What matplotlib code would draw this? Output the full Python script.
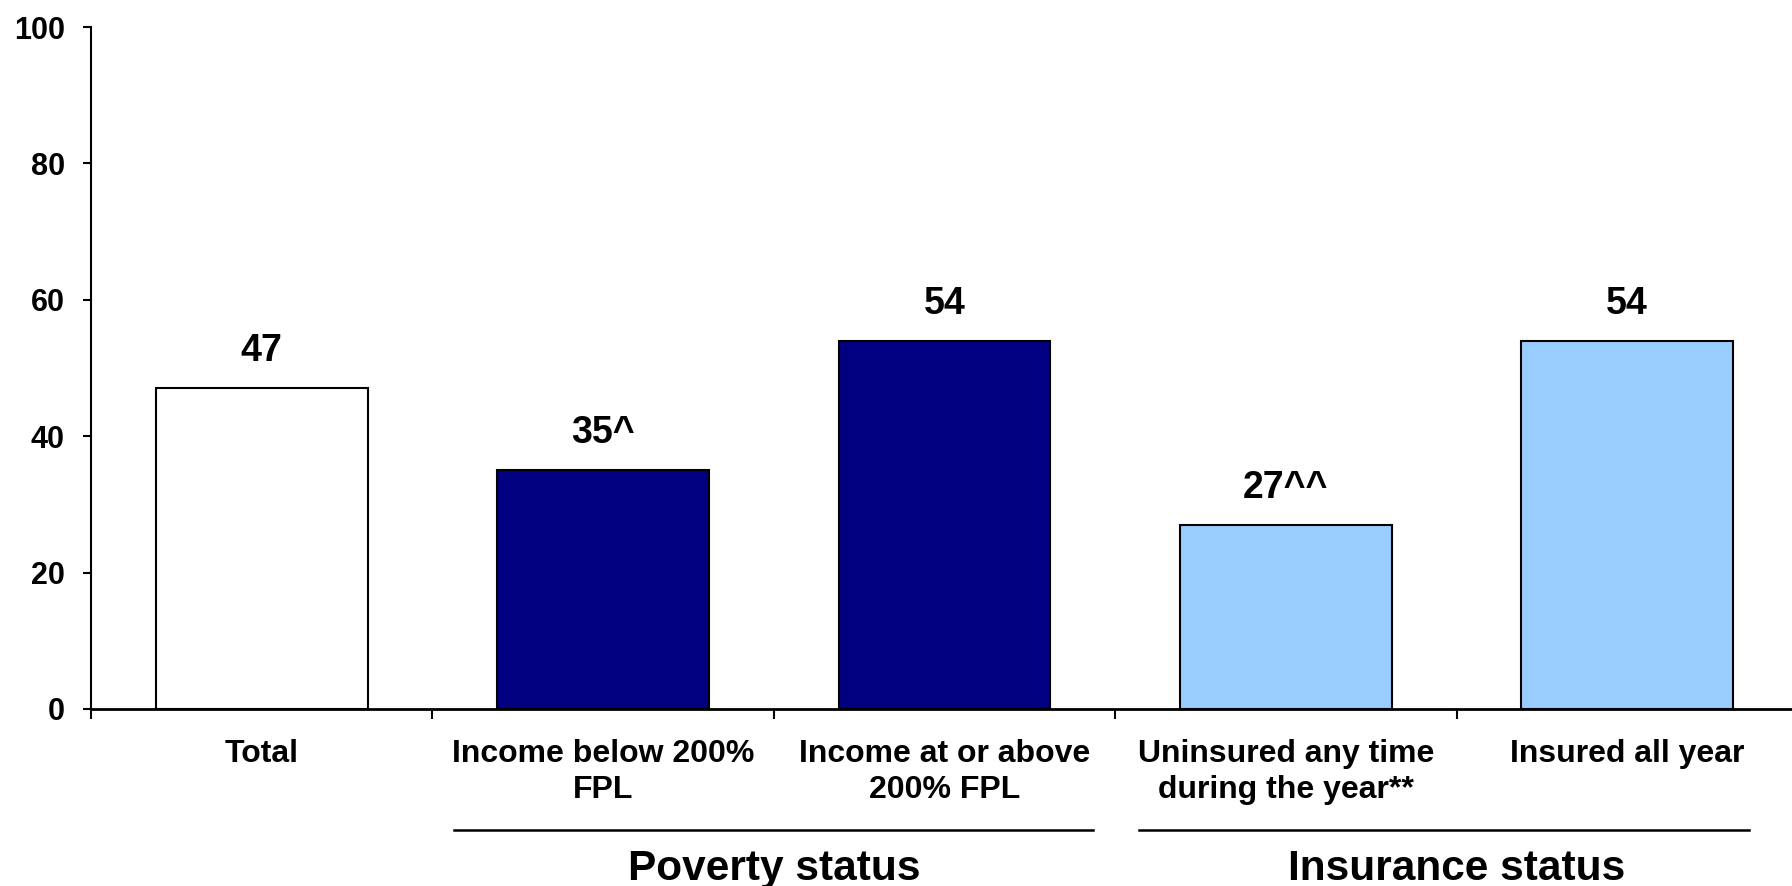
import matplotlib.pyplot as plt
import numpy as np

plt.rcParams['font.family'] = ['Liberation Sans', 'DejaVu Sans']
plt.rcParams['font.weight'] = 'bold'

categories = ['Total', 'Income below 200%\nFPL', 'Income at or above\n200% FPL',
              'Uninsured any time\nduring the year**', 'Insured all year']
values = [47, 35, 54, 27, 54]
value_labels = ['47', '35^', '54', '27^^', '54']
colors = ['#FFFFFF', '#000080', '#000080', '#99CCFF', '#99CCFF']
groups = ['Poverty status', 'Insurance status']
group_spans = [(1.064, 2.934), (3.071, 4.858)]
group_centers = [2, 4]

fig = plt.figure(figsize=(17.92, 8.86), dpi=100)
ax = fig.add_axes([0.0508, 0.1998, 0.9525, 0.7697])

x = np.arange(len(values)) + 0.5
bars = ax.bar(x, values, width=0.62, color=colors, edgecolor='black', linewidth=1.5, zorder=2)

for xi, v, lab in zip(x, values, value_labels):
    ax.annotate(lab, (xi, v), xytext=(0, 19.5), textcoords='offset points',
                ha='center', va='baseline', fontsize=27, fontweight='bold')

ax.set_xlim(0, 5)
ax.set_ylim(0, 100)
ax.set_yticks([0, 20, 40, 60, 80, 100])
ax.tick_params(axis='y', labelsize=22, length=6, width=1.5, pad=13, direction='out')

# boundary ticks, labels at bar centres
ax.set_xticks(np.arange(0, 6))
ax.set_xticklabels([])
ax.tick_params(axis='x', which='major', length=7, width=1.5, direction='out')
ax.set_xticks(x, minor=True)
ax.set_xticklabels(categories, minor=True, fontsize=23, fontweight='bold', linespacing=1.25)
ax.tick_params(axis='x', which='minor', length=0, pad=21.5)

for s in ['top', 'right']:
    ax.spines[s].set_visible(False)
ax.spines['left'].set_linewidth(1.5)
ax.spines['bottom'].set_linewidth(2)

trans = ax.get_xaxis_transform()
for (x0, x1), cx, name in zip(group_spans, group_centers, groups):
    ax.plot([x0, x1], [-0.1774, -0.1774], color='black', linewidth=1.8,
            transform=trans, clip_on=False)
    ax.text(cx, -0.2507, name, transform=trans, ha='center', va='baseline',
            fontsize=30.5, fontweight='bold')

fig.savefig('out.png', dpi=100)
